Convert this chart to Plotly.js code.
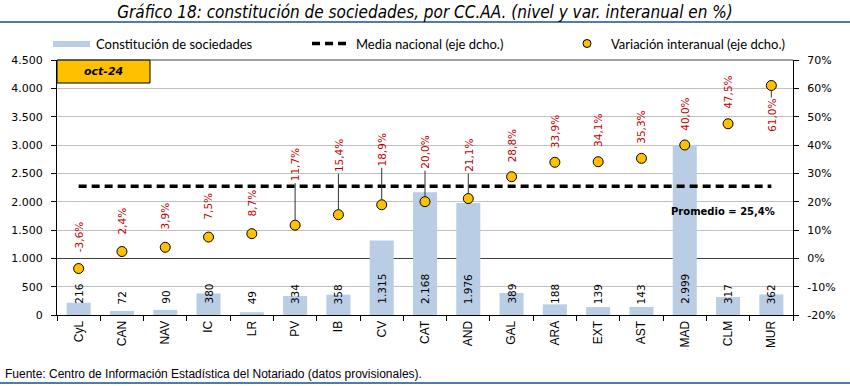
<!DOCTYPE html>
<html>
<head>
<meta charset="utf-8">
<script src="https://cdn.plot.ly/plotly-3.0.1.min.js"></script>
<style>html,body{margin:0;padding:0;background:#fff;}#chart{width:850px;height:386px;}</style>
</head>
<body>
<div id="chart"></div>
<script>
// ---------------- DATA ----------------
const categories = ["CyL","CAN","NAV","IC","LR","PV","IB","CV","CAT","AND","GAL","ARA","EXT","AST","MAD","CLM","MUR"];
const sociedades = [216,72,90,380,49,334,358,1315,2168,1976,389,188,139,143,2999,317,362];
const variacion = [-3.6,2.4,3.9,7.5,8.7,11.7,15.4,18.9,20.0,21.1,28.8,33.9,34.1,35.3,40.0,47.5,61.0];
const mediaNacional = 25.4;
const leftTicks = [0,500,1000,1500,2000,2500,3000,3500,4000,4500];
const rightTicks = [-20,-10,0,10,20,30,40,50,60,70];
const periodo = "oct-24";
const titulo = "Gráfico 18: constitución de sociedades, por CC.AA. (nivel y var. interanual en %)";
const fuente = "Fuente: Centro de Información Estadística del Notariado (datos provisionales).";
const legendNames = ["Constitución de sociedades","Media nacional (eje dcho.)","Variación interanual (eje dcho.)"];

// label placement (pixels, style only): vertical offset of % labels; null = default above point
const labelArrowOffsets = [null,null,null,null,null,-60,-59,-55,-49,-43,null,null,null,null,null,null,30];

// ---------------- HELPERS ----------------
const W = 850, H = 386, ML = 57, MR = 57, MT = 60, MB = 71;
const PW = W - ML - MR, PH = H - MT - MB;
const px = x => (x - ML) / PW;
const py = y => (H - MB - y) / PH;
const fmtInt = v => String(v).replace(/\B(?=(\d{3})+(?!\d))/g, ".");
const fmtPct = v => v.toFixed(1).replace(".", ",") + "%";

const numFont = "DejaVu Sans, Verdana, sans-serif";
const legFont = "Lato, Open Sans, sans-serif";
const narrowFont = "Liberation Sans Narrow, DejaVu Sans Condensed, Arial Narrow, sans-serif";

// ---------------- TRACES ----------------
const traces = [
  {type:"bar", x:categories, y:sociedades, name:legendNames[0], yaxis:"y",
   marker:{color:"#B9CDE5"}, width:0.555, hoverinfo:"x+y"},
  {type:"scatter", mode:"lines", x:categories, y:categories.map(() => mediaNacional), name:legendNames[1], yaxis:"y2",
   line:{color:"#000", width:3.5, dash:"8px,5px"}},
  {type:"scatter", mode:"markers", x:categories, y:variacion, name:legendNames[2], yaxis:"y2",
   marker:{color:"#FFC000", size:10, line:{color:"#000", width:1}}}
];

// ---------------- ANNOTATIONS ----------------
const annotations = [];
categories.forEach((c, i) => {
  annotations.push({xref:"x", yref:"y", x:c, y:0, text:fmtInt(sociedades[i]), textangle:-90,
    showarrow:false, yanchor:"bottom", yshift:9, font:{family:numFont, size:10.5, color:"#000"}});
  const off = labelArrowOffsets[i];
  if (off === null) {
    annotations.push({xref:"x", yref:"y2", x:c, y:variacion[i], text:fmtPct(variacion[i]), textangle:-90,
      showarrow:false, yanchor:"middle", yshift:31, font:{family:numFont, size:10.5, color:"#C00000"}});
  } else {
    annotations.push({xref:"x", yref:"y2", x:c, y:variacion[i], text:fmtPct(variacion[i]), textangle:-90,
      showarrow:true, ax:0, ay:off, arrowhead:0, arrowwidth:1, arrowcolor:"#333", standoff:5,
      font:{family:numFont, size:10.5, color:"#C00000"}});
  }
});
annotations.push({xref:"x", yref:"y2", x:categories[categories.length-1], y:mediaNacional,
  text:"<b>Promedio = " + fmtPct(mediaNacional) + "</b>", showarrow:false, xanchor:"right", xshift:6, yshift:-25,
  font:{family:numFont, size:10, color:"#000"}});
annotations.push({xref:"paper", yref:"paper", x:px(103), y:py(71.5), text:"<b><i>" + periodo + "</i></b>",
  showarrow:false, xanchor:"center", yanchor:"middle", font:{family:numFont, size:11, color:"#000"}});
// legend texts
annotations.push({xref:"paper", yref:"paper", x:px(94), y:py(44), text:legendNames[0], showarrow:false,
  xanchor:"left", yanchor:"middle", font:{family:legFont, size:13, color:"#000"}});
annotations.push({xref:"paper", yref:"paper", x:px(354), y:py(44), text:legendNames[1], showarrow:false,
  xanchor:"left", yanchor:"middle", font:{family:legFont, size:13, color:"#000"}});
annotations.push({xref:"paper", yref:"paper", x:px(609), y:py(44), text:legendNames[2], showarrow:false,
  xanchor:"left", yanchor:"middle", font:{family:legFont, size:13, color:"#000"}});
// source
annotations.push({xref:"paper", yref:"paper", x:px(3), y:py(374), text:fuente, showarrow:false,
  xanchor:"left", yanchor:"middle", font:{family:"Liberation Sans, Arial, sans-serif", size:12, color:"#000"}});

// ---------------- SHAPES ----------------
const shapes = [
  {type:"line", xref:"paper", yref:"paper", x0:px(0), x1:px(850), y0:py(22), y1:py(22), line:{color:"#4F7BB0", width:2}},
  {type:"line", xref:"paper", yref:"paper", x0:px(0), x1:px(850), y0:py(383), y1:py(383), line:{color:"#4F7BB0", width:2}},
  {type:"rect", xref:"paper", yref:"paper", x0:px(ML), x1:px(150), y0:py(83), y1:py(MT), fillcolor:"#FFC000", line:{color:"#000", width:1}, layer:"above"},
  {type:"rect", xref:"paper", yref:"paper", x0:px(53), x1:px(90), y0:py(47), y1:py(41), fillcolor:"#B9CDE5", line:{width:0}},
  {type:"line", xref:"paper", yref:"paper", x0:px(312), x1:px(347), y0:py(43.5), y1:py(43.5), line:{color:"#000", width:3.5, dash:"8px,5px"}},
  {type:"circle", xref:"paper", yref:"paper", x0:px(583), x1:px(591), y0:py(47.5), y1:py(39.5), fillcolor:"#FFC000", line:{color:"#000", width:1}},
  {type:"line", xref:"paper", yref:"paper", x0:0, x1:1, y0:1, y1:1, line:{color:"#404040", width:1.2}}
];

const layout = {
  width:W, height:H, margin:{l:ML, r:MR, t:MT, b:MB, pad:0},
  paper_bgcolor:"#fff", plot_bgcolor:"#fff", showlegend:false, separators:",.",
  title:{text:titulo, x:0.5, xref:"container", xanchor:"center", y:1 - 12/H, yref:"container", yanchor:"middle",
    font:{family:narrowFont, size:17, style:"italic", color:"#000"}},
  xaxis:{type:"category", tickangle:-90, ticks:"outside", ticklen:5, tickcolor:"#000", tickson:"boundaries",
    showline:true, linecolor:"#000", linewidth:1, showgrid:false, zeroline:false,
    tickfont:{family:"Liberation Sans, Arial, sans-serif", size:12, color:"#000"}, range:[-0.5, categories.length-0.5]},
  yaxis:{range:[0,4500], tickvals:leftTicks, ticktext:leftTicks.map(fmtInt), ticks:"outside", ticklen:5, tickcolor:"#000",
    showline:true, linecolor:"#000", linewidth:1, showgrid:true, gridcolor:"#C0C0C0", gridwidth:1, zeroline:false,
    tickfont:{family:numFont, size:11, color:"#000"}, ticklabelstandoff:6},
  yaxis2:{range:[-20,70], overlaying:"y", side:"right", tickvals:rightTicks, ticktext:rightTicks.map(v => v + "%"),
    ticks:"outside", ticklen:5, tickcolor:"#000", showline:true, linecolor:"#000", linewidth:1, showgrid:false,
    zeroline:true, zerolinecolor:"#404040", zerolinewidth:1.5,
    tickfont:{family:numFont, size:11, color:"#000"}, ticklabelstandoff:6},
  annotations:annotations,
  shapes:shapes
};

Plotly.newPlot("chart", traces, layout, {displayModeBar:false, staticPlot:true});
</script>
</body>
</html>
